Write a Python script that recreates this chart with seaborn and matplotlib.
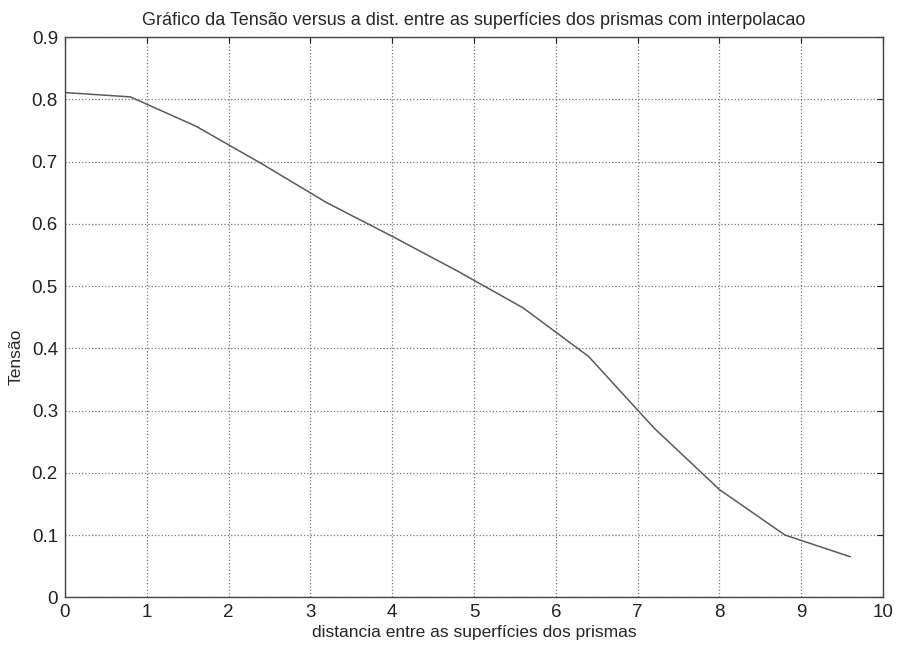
import matplotlib
matplotlib.use("Agg")
import matplotlib.pyplot as plt
import seaborn as sns
import pandas as pd

# data
distancia = [0.0, 0.8, 1.6, 2.4, 3.2, 4.0, 4.8, 5.6, 6.4, 7.2, 8.0, 8.8, 9.6]
tensao = [0.811, 0.804, 0.757, 0.697, 0.634, 0.580, 0.524, 0.465, 0.387, 0.272, 0.173, 0.100, 0.065]
x_ticks = list(range(0, 11))
y_ticks = [0, 0.1, 0.2, 0.3, 0.4, 0.5, 0.6, 0.7, 0.8, 0.9]
y_ticklabels = ["0", "0.1", "0.2", "0.3", "0.4", "0.5", "0.6", "0.7", "0.8", "0.9"]

df = pd.DataFrame({"distancia": distancia, "tensao": tensao})

sns.set_style("white")
plt.rcParams["font.family"] = ["Liberation Sans", "DejaVu Sans"]

fig = plt.figure(figsize=(9.02, 6.52), dpi=100)
ax = fig.add_axes([0.072, 0.084, 0.907, 0.859])
sns.lineplot(data=df, x="distancia", y="tensao", ax=ax, color="#5a5a5a", linewidth=1.1)

ax.set_xlim(0, 10)
ax.set_ylim(0, 0.9)
ax.set_xticks(x_ticks)
ax.set_yticks(y_ticks)
ax.set_yticklabels(y_ticklabels)
ax.grid(True, linestyle=":", color="#777777", linewidth=0.9)
for s in ax.spines.values():
    s.set_visible(True)
    s.set_color("#444444")
    s.set_linewidth(1.0)
ax.tick_params(direction="in", length=4, labelsize=13.5, top=True, right=True, colors="#222222", pad=5)

ax.set_title("Gráfico da Tensão versus a dist. entre as superfícies dos prismas com interpolacao",
             fontsize=13, pad=9)
ax.set_xlabel("distancia entre as superfícies dos prismas", fontsize=12.5, labelpad=3)
ax.set_ylabel("Tensão", fontsize=12.5)
ax.yaxis.set_label_coords(-0.05, 0.43)

fig.savefig("out.png", dpi=100)
